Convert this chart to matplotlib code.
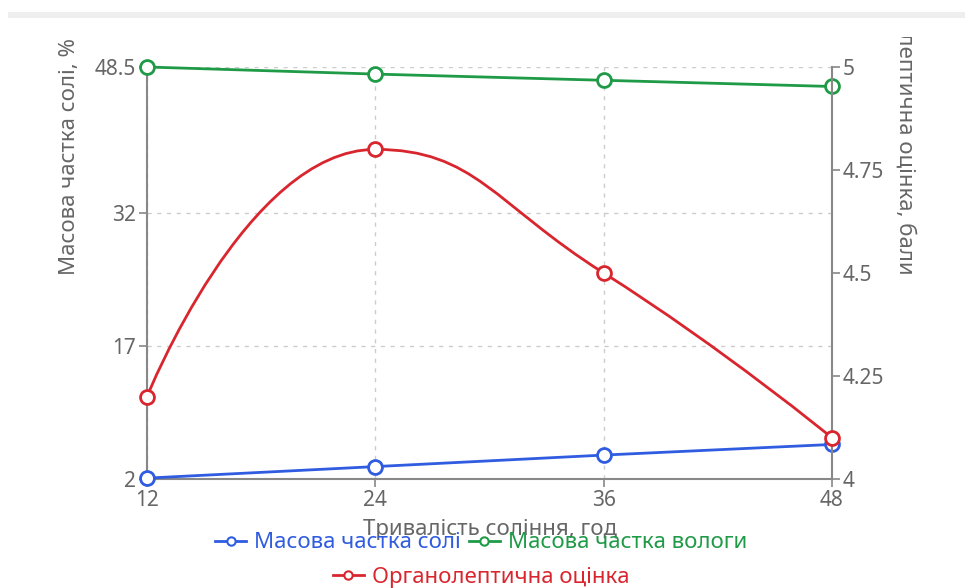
import matplotlib
matplotlib.use('Agg')
import matplotlib.pyplot as plt
from matplotlib.path import Path
from matplotlib.patches import PathPatch, Rectangle
from matplotlib.lines import Line2D
from matplotlib.transforms import Bbox, TransformedBbox
import numpy as np

plt.rcParams['font.family'] = ['Noto Sans', 'DejaVu Sans']

# data
hours = [12, 24, 36, 48]
salt = [2.1, 3.4, 4.7, 5.9]
moisture = [48.5, 47.7, 47.0, 46.3]
score = [4.2, 4.8, 4.5, 4.1]

left_ticks = [2, 17, 32, 48.5]
left_labels = ['2', '17', '32', '48.5']
right_ticks = [4, 4.25, 4.5, 4.75, 5]
right_labels = ['4', '4.25', '4.5', '4.75', '5']

BLUE = '#2f5ce0'
GREEN = '#1f9a47'
RED = '#d9262e'
AXIS = '#888888'
TEXT = '#666666'

W, H = 965, 588
fig = plt.figure(figsize=(W / 100, H / 100), dpi=100)

def fx(px):
    return px / W

def fy(py):
    return 1 - py / H

ax = fig.add_axes([fx(147), fy(479), fx(832) - fx(147), fy(67) - fy(479)])
ax2 = ax.twinx()

ax.set_xlim(12, 48)
ax.set_ylim(2, 48.5)
ax2.set_ylim(4, 5)

ax.set_xticks(hours)
ax.set_xticklabels([str(h) for h in hours])
ax.set_yticks(left_ticks)
ax.set_yticklabels(left_labels)
ax2.set_yticks(right_ticks)
ax2.set_yticklabels(right_labels)

for a in (ax, ax2):
    for s in a.spines.values():
        s.set_visible(False)
    a.tick_params(colors=AXIS, labelcolor=TEXT, labelsize=15, length=6, width=1.2, pad=2)

ax.spines['left'].set_visible(True)
ax.spines['bottom'].set_visible(True)
ax2.spines['right'].set_visible(True)
for s in (ax.spines['left'], ax.spines['bottom'], ax2.spines['right']):
    s.set_color(AXIS)
    s.set_linewidth(1.5)
    s.set_linestyle((0, (4, 1)))

# grid
ax.grid(True, color='#cccccc', linestyle=(0, (3, 4)), linewidth=1)
ax.set_axisbelow(True)

# series
lw = 2.0
mk = dict(marker='o', markersize=10, markerfacecolor='white', markeredgewidth=2, clip_on=False, zorder=5)
l_salt, = ax.plot(hours, salt, color=BLUE, lw=lw, label='Масова частка солі', **mk)
l_moist, = ax.plot(hours, moisture, color=GREEN, lw=lw, label='Масова частка вологи', **mk)

# smooth red line: bezier through the points, flat tangent at extremes
pts = ax2.transData.transform(np.column_stack([hours, score]))
n = len(pts)
smooth = 0.5

def ctrl(i):
    if i == 0 or i == n - 1:
        return pts[i], pts[i]
    d0 = np.linalg.norm(pts[i] - pts[i - 1])
    d1 = np.linalg.norm(pts[i + 1] - pts[i])
    v = pts[i + 1] - pts[i - 1]
    if (pts[i][1] - pts[i - 1][1]) * (pts[i + 1][1] - pts[i][1]) < 0:
        v = np.array([v[0], 0.0])
    return pts[i] - v * smooth * d0 / (d0 + d1), pts[i] + v * smooth * d1 / (d0 + d1)

verts = [pts[0]]
codes = [Path.MOVETO]
for i in range(n - 1):
    verts += [ctrl(i)[1], ctrl(i + 1)[0], pts[i + 1]]
    codes += [Path.CURVE4] * 3
path = Path(ax2.transData.inverted().transform(np.array(verts)), codes)
ax2.add_patch(PathPatch(path, facecolor='none', edgecolor=RED, lw=lw, clip_on=False, zorder=4))
l_score, = ax2.plot(hours, score, color=RED, lw=lw, linestyle='none',
                    label='Органолептична оцінка', **mk)

# axis titles
fig.text(fx(70), fy(275), 'Масова частка солі, %', rotation=90, rotation_mode='anchor',
         ha='left', va='center', fontsize=16, color=TEXT)
rt = fig.text(fx(905), fy(275), 'Органолептична оцінка, бали', rotation=-90, rotation_mode='anchor',
              ha='right', va='center', fontsize=16, color=TEXT)
rt.set_clip_box(TransformedBbox(Bbox([[0, 0], [1, fy(37)]]), fig.transFigure))
rt.set_clip_on(True)
fig.text(fx(490), fy(530), 'Тривалість соління, год', ha='center', va='center', fontsize=16, color=TEXT)

# legend
def handle(c):
    return Line2D([], [], color=c, lw=2, marker='o', markersize=6, markerfacecolor='white', markeredgewidth=1.5)

fig.legend([handle(BLUE), handle(GREEN)], [l_salt.get_label(), l_moist.get_label()],
           ncol=2, loc='center', bbox_to_anchor=(fx(481), fy(543)), frameon=False,
           fontsize=16, handlelength=1.4, handletextpad=0.35, columnspacing=0.35,
           labelcolor=[BLUE, GREEN], borderaxespad=0, borderpad=0)
fig.legend([handle(RED)], [l_score.get_label()], loc='center',
           bbox_to_anchor=(fx(481), fy(577)), frameon=False, fontsize=16,
           handlelength=1.4, handletextpad=0.35, labelcolor=[RED], borderaxespad=0, borderpad=0)

# light band at top
fig.patches.append(Rectangle((fx(8), fy(18)), 1 - fx(8), fy(12) - fy(18), transform=fig.transFigure,
                             facecolor='#eeeeee', edgecolor='none'))

fig.savefig('out.png', dpi=100)
